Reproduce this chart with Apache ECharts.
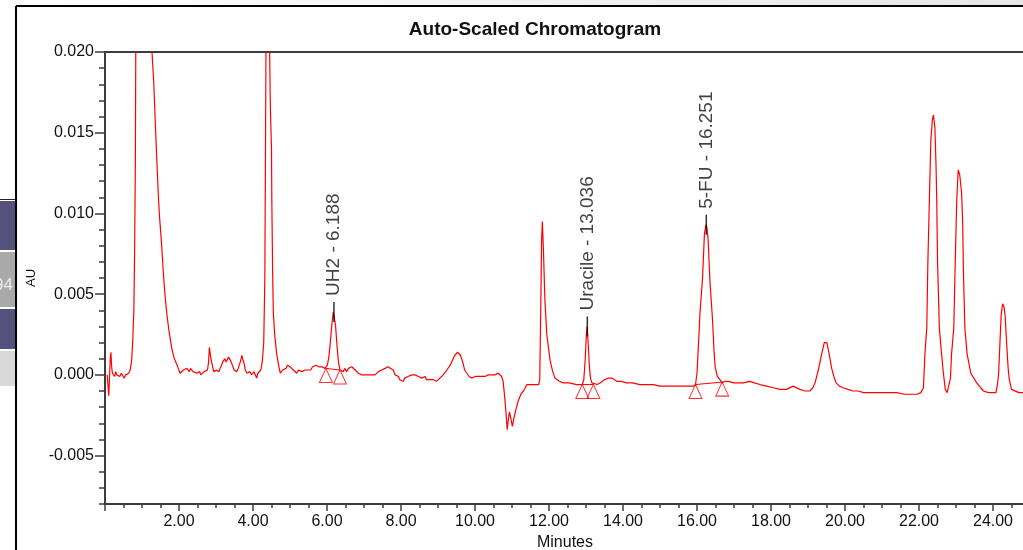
<!DOCTYPE html>
<html>
<head>
<meta charset="utf-8">
<title>Auto-Scaled Chromatogram</title>
<script src="https://cdn.jsdelivr.net/npm/echarts@6/dist/echarts.min.js"></script>
<style>
  html, body { margin: 0; padding: 0; background: #fff; }
  #chart { width: 1023px; height: 550px; }
</style>
</head>
<body>
<div id="chart"></div>
<script>
"use strict";

// detector trace, [minutes, AU]
var trace = [
  [0.06, 0.0000], [0.08, -0.0006], [0.10, -0.0013], [0.12, -0.0003], [0.14, 0.0009], [0.16, 0.0014],
  [0.18, 0.0005], [0.20, 0.0001], [0.23, 0.0002], [0.26, -0.0001], [0.29, 0.0002], [0.32, 0.0000],
  [0.36, 0.0001], [0.40, -0.0001], [0.44, 0.0001], [0.48, 0.0000], [0.52, -0.0002], [0.56, 0.0000],
  [0.60, -0.0001], [0.64, 0.0001], [0.68, 0.0003], [0.72, 0.0009], [0.75, 0.0021], [0.78, 0.0040],
  [0.80, 0.0075], [0.82, 0.0130], [0.84, 0.0250], [0.92, 0.0480], [1.05, 0.0560], [1.18, 0.0380],
  [1.27, 0.0200], [1.32, 0.0180], [1.37, 0.0150], [1.41, 0.0128], [1.44, 0.0112], [1.47, 0.0099],
  [1.51, 0.0087], [1.54, 0.0077], [1.58, 0.0062], [1.62, 0.0050], [1.67, 0.0038], [1.73, 0.0027],
  [1.80, 0.0017], [1.86, 0.0011], [1.93, 0.0007], [1.98, 0.0004], [2.03, 0.0001],
  [2.08, 0.0002], [2.12, 0.0003], [2.17, 0.0002], [2.21, 0.0004], [2.25, 0.0003], [2.28, 0.0002],
  [2.31, 0.0004], [2.34, 0.0004], [2.38, 0.0002], [2.43, 0.0003], [2.48, 0.0001], [2.52, 0.0001],
  [2.56, 0.0002], [2.59, 0.0000], [2.64, 0.0001], [2.68, 0.0002], [2.73, 0.0001], [2.77, 0.0003],
  [2.80, 0.0008], [2.82, 0.0017], [2.85, 0.0012], [2.88, 0.0008], [2.91, 0.0005], [2.94, 0.0002],
  [2.97, 0.0001], [3.01, 0.0003], [3.04, 0.0003], [3.08, 0.0002], [3.11, 0.0004], [3.15, 0.0006],
  [3.18, 0.0008], [3.21, 0.0009], [3.24, 0.0010], [3.27, 0.0008], [3.31, 0.0009], [3.34, 0.0011],
  [3.36, 0.0011], [3.39, 0.0009], [3.42, 0.0008], [3.46, 0.0005], [3.49, 0.0003], [3.53, 0.0002],
  [3.56, 0.0002], [3.60, 0.0004], [3.63, 0.0005], [3.67, 0.0009], [3.70, 0.0012], [3.72, 0.0010],
  [3.74, 0.0009], [3.77, 0.0006], [3.79, 0.0003], [3.84, 0.0001], [3.88, 0.0002], [3.92, 0.0002],
  [3.96, 0.0000], [3.99, 0.0001], [4.03, 0.0002], [4.06, 0.0000], [4.10, -0.0002], [4.13, 0.0001],
  [4.17, 0.0002], [4.21, 0.0003],
  [4.25, 0.0008], [4.29, 0.0020], [4.32, 0.0060], [4.35, 0.0200], [4.39, 0.0420], [4.43, 0.0350],
  [4.45, 0.0200], [4.47, 0.0165], [4.50, 0.0140], [4.51, 0.0105], [4.53, 0.0065], [4.55, 0.0038],
  [4.59, 0.0024], [4.64, 0.0013], [4.70, 0.0005], [4.74, 0.0001],
  [4.80, 0.0003], [4.85, 0.0004], [4.89, 0.0004], [4.93, 0.0006], [4.96, 0.0007], [5.00, 0.0005],
  [5.04, 0.0004], [5.09, 0.0003], [5.14, 0.0002], [5.18, 0.0001], [5.23, 0.0003], [5.27, 0.0003],
  [5.32, 0.0002], [5.36, 0.0002], [5.41, 0.0003], [5.45, 0.0004], [5.50, 0.0003], [5.56, 0.0003],
  [5.61, 0.0005], [5.65, 0.0005], [5.70, 0.0006], [5.74, 0.0006], [5.78, 0.0005], [5.81, 0.0004],
  [5.86, 0.0005], [5.90, 0.0006], [5.94, 0.0004], [5.97, 0.0004],
  [6.01, 0.0006], [6.05, 0.0011], [6.09, 0.0020], [6.13, 0.0031], [6.17, 0.0039], [6.20, 0.0038],
  [6.23, 0.0031], [6.27, 0.0018], [6.31, 0.0008], [6.35, 0.0003], [6.39, 0.0002],
  [6.44, 0.0002], [6.48, 0.0004], [6.53, 0.0002], [6.58, 0.0004], [6.63, 0.0003], [6.67, 0.0005],
  [6.71, 0.0005], [6.76, 0.0003], [6.80, 0.0002], [6.85, 0.0001], [6.90, 0.0002], [6.94, 0.0000],
  [6.98, 0.0001], [7.03, 0.0000], [7.07, -0.0001], [7.12, 0.0000], [7.16, -0.0001], [7.21, 0.0000],
  [7.25, 0.0001], [7.30, 0.0000], [7.34, 0.0001], [7.39, 0.0002], [7.43, 0.0001], [7.48, 0.0003],
  [7.52, 0.0003], [7.57, 0.0004], [7.61, 0.0003], [7.65, 0.0005], [7.68, 0.0005], [7.72, 0.0004],
  [7.76, 0.0003], [7.79, 0.0003], [7.84, 0.0000], [7.88, -0.0001], [7.93, -0.0001], [7.97, -0.0003],
  [8.02, -0.0002], [8.06, -0.0004], [8.10, -0.0002], [8.15, -0.0003], [8.19, -0.0001], [8.24, -0.0001],
  [8.29, 0.0000], [8.33, -0.0001], [8.38, 0.0000], [8.42, 0.0000], [8.47, -0.0001], [8.51, -0.0001],
  [8.56, -0.0002], [8.60, -0.0002], [8.65, -0.0001], [8.69, -0.0003], [8.74, -0.0002], [8.78, -0.0003],
  [8.83, -0.0002], [8.87, -0.0003], [8.92, -0.0004], [8.96, -0.0004], [9.01, -0.0003], [9.05, -0.0002],
  [9.10, -0.0001], [9.14, 0.0000], [9.19, 0.0001], [9.24, 0.0003], [9.28, 0.0004], [9.33, 0.0006],
  [9.37, 0.0008], [9.41, 0.0010], [9.45, 0.0012], [9.49, 0.0013], [9.53, 0.0014], [9.57, 0.0014],
  [9.61, 0.0012], [9.65, 0.0009], [9.68, 0.0007], [9.72, 0.0003], [9.78, 0.0001], [9.84, -0.0001],
  [9.91, -0.0002], [9.96, -0.0002], [10.01, -0.0001], [10.05, -0.0002], [10.09, -0.0001], [10.14, -0.0002],
  [10.18, -0.0001], [10.23, -0.0002], [10.27, -0.0001], [10.32, -0.0001], [10.36, 0.0000], [10.41, -0.0001],
  [10.45, 0.0000], [10.50, -0.0001], [10.54, 0.0000], [10.59, -0.0001], [10.63, 0.0001], [10.68, 0.0000],
  [10.72, -0.0001],
  [10.76, -0.0004], [10.80, -0.0013], [10.84, -0.0024], [10.87, -0.0034], [10.90, -0.0028], [10.93, -0.0023],
  [10.97, -0.0027], [11.01, -0.0032], [11.05, -0.0027], [11.10, -0.0022], [11.17, -0.0016], [11.24, -0.0012],
  [11.31, -0.0010], [11.36, -0.0008], [11.40, -0.0006], [11.48, -0.0006], [11.56, -0.0006], [11.64, -0.0006],
  [11.72, -0.0006], [11.75, -0.0003],
  [11.78, 0.0046], [11.80, 0.0083], [11.82, 0.0095], [11.85, 0.0077], [11.89, 0.0046], [11.94, 0.0025],
  [12.03, 0.0009], [12.10, 0.0002], [12.16, -0.0002], [12.28, -0.0004], [12.39, -0.0005], [12.55, -0.0005],
  [12.75, -0.0006], [12.90, -0.0006],
  [12.94, -0.0003], [12.98, 0.0010], [13.01, 0.0025], [13.03, 0.0030], [13.06, 0.0019], [13.09, 0.0006],
  [13.12, -0.0002], [13.16, -0.0005], [13.20, -0.0006], [13.30, -0.0006], [13.38, -0.0005], [13.50, -0.0003],
  [13.60, -0.0002], [13.70, -0.0002], [13.83, -0.0004], [13.95, -0.0004], [14.10, -0.0005], [14.25, -0.0005],
  [14.46, -0.0006], [14.60, -0.0006], [14.82, -0.0006], [15.00, -0.0007], [15.27, -0.0007], [15.50, -0.0007],
  [15.72, -0.0007], [15.90, -0.0007], [15.96, -0.0006],
  [16.00, 0.0001], [16.04, 0.0019], [16.08, 0.0038], [16.15, 0.0060], [16.20, 0.0087], [16.24, 0.0093],
  [16.27, 0.0091], [16.30, 0.0084], [16.35, 0.0058], [16.42, 0.0034], [16.46, 0.0015], [16.49, 0.0005],
  [16.55, -0.0001], [16.62, -0.0003], [16.68, -0.0005], [16.75, -0.0004], [16.85, -0.0004], [17.00, -0.0005],
  [17.12, -0.0005], [17.25, -0.0005], [17.43, -0.0004], [17.55, -0.0005], [17.70, -0.0006], [17.88, -0.0007],
  [18.06, -0.0008], [18.24, -0.0009], [18.42, -0.0009], [18.60, -0.0007], [18.78, -0.0009], [18.92, -0.0010],
  [19.05, -0.0010], [19.13, -0.0008], [19.19, -0.0005], [19.28, 0.0003], [19.37, 0.0013], [19.44, 0.0020],
  [19.51, 0.0020], [19.57, 0.0013], [19.64, 0.0004], [19.70, -0.0001], [19.76, -0.0005], [19.85, -0.0007],
  [19.95, -0.0008], [20.08, -0.0009], [20.22, -0.0010], [20.36, -0.0010], [20.50, -0.0011], [20.70, -0.0011],
  [20.95, -0.0011], [21.20, -0.0011], [21.40, -0.0011], [21.60, -0.0012], [21.76, -0.0012], [21.95, -0.0012],
  [22.05, -0.0011], [22.12, -0.0008],
  [22.16, 0.0013], [22.21, 0.0029], [22.24, 0.0070], [22.28, 0.0108], [22.32, 0.0145], [22.36, 0.0158],
  [22.39, 0.0161], [22.43, 0.0153], [22.46, 0.0130], [22.48, 0.0108], [22.50, 0.0071], [22.55, 0.0029],
  [22.61, 0.0013], [22.66, 0.0001], [22.71, -0.0009], [22.76, -0.0011], [22.81, -0.0010], [22.85, -0.0002],
  [22.88, 0.0013], [22.94, 0.0029], [22.98, 0.0071], [23.02, 0.0108], [23.06, 0.0127], [23.10, 0.0124],
  [23.15, 0.0113], [23.18, 0.0095], [23.20, 0.0065], [23.24, 0.0029], [23.30, 0.0013], [23.40, 0.0001],
  [23.56, -0.0005], [23.74, -0.0010], [23.88, -0.0011], [24.08, -0.0011],
  [24.12, -0.0006], [24.15, 0.0000], [24.19, 0.0021], [24.22, 0.0037], [24.26, 0.0044], [24.30, 0.0042],
  [24.33, 0.0036], [24.37, 0.0019], [24.41, 0.0004], [24.44, -0.0003], [24.50, -0.0009], [24.55, -0.0010],
  [24.70, -0.0011], [25.00, -0.0011]
];

// named peaks
var peakNames = ["UH2", "Uracile", "5-FU"];
var peakTimes = [6.188, 13.036, 16.251];
var peakHeights = [0.0039, 0.0030, 0.0093];

// integration start / end marks
var baseStart = [[5.97, 0.0004], [12.90, -0.0006], [15.96, -0.0006]];
var baseEnd = [[6.35, 0.0003], [13.20, -0.0006], [16.68, -0.00045]];

// AU ticks, one every 0.001 from the bottom of the frame
var auTicks = ["-0.008", "-0.007", "-0.006", "-0.005", "-0.004", "-0.003", "-0.002", "-0.001",
  "0.000", "0.001", "0.002", "0.003", "0.004", "0.005", "0.006", "0.007", "0.008", "0.009",
  "0.010", "0.011", "0.012", "0.013", "0.014", "0.015", "0.016", "0.017", "0.018", "0.019", "0.020"];

var FONT = "Liberation Sans, Arial, sans-serif";
var AXIS = "#3c3c3c";
var RED = "#ff0000";

function isMajor(index, value) {
  return Math.round(parseFloat(value) * 1000) % 5 === 0;
}

var peakData = [];
for (var i = 0; i < peakNames.length; i++) {
  peakData.push([peakTimes[i], peakHeights[i], peakNames[i]]);
}

var series = [{
  name: "trace",
  type: "line",
  data: trace,
  showSymbol: false,
  lineStyle: { color: RED, width: 1.2 },
  z: 2
}];

// baseline drawn between each pair of marks
for (var j = 0; j < baseStart.length; j++) {
  series.push({
    type: "line",
    data: [baseStart[j], baseEnd[j]],
    showSymbol: false,
    lineStyle: { color: RED, width: 1 },
    z: 2
  });
}

series.push({
  name: "marks",
  type: "scatter",
  data: baseStart.concat(baseEnd),
  symbol: "triangle",
  symbolSize: [13, 14],
  symbolOffset: [0, 7],
  itemStyle: { color: "rgba(255,255,255,0)", borderColor: RED, borderWidth: 1 },
  z: 3
});

series.push({
  name: "peaks",
  type: "scatter",
  data: peakData,
  symbol: "rect",
  symbolSize: [1.5, 20],
  itemStyle: { color: "#000" },
  label: {
    show: true,
    position: "top",
    distance: 6,
    rotate: 90,
    align: "left",
    verticalAlign: "middle",
    fontFamily: FONT,
    fontSize: 19,
    color: "#111",
    formatter: function (p) {
      return p.data[2] + " - " + p.data[0].toFixed(3);
    }
  },
  z: 4
});

var chart = echarts.init(document.getElementById("chart"));

chart.setOption({
  animation: false,
  backgroundColor: "#fff",
  grid: {
    left: 105, top: 52, width: 962, height: 452,
    outerBoundsMode: "none",
    show: true, borderColor: AXIS, borderWidth: 2
  },
  xAxis: {
    type: "value",
    min: 0,
    max: 26,
    interval: 2,
    name: "Minutes",
    nameLocation: "middle",
    nameGap: 26,
    nameTextStyle: { fontFamily: FONT, fontSize: 16, color: "#111", padding: [0, 42, 0, 0] },
    axisLine: { onZero: false, lineStyle: { color: AXIS, width: 2 } },
    axisTick: { length: 7, lineStyle: { color: AXIS, width: 1.5 } },
    minorTick: { show: true, splitNumber: 4, length: 4, lineStyle: { color: AXIS, width: 1.5 } },
    axisLabel: {
      showMinLabel: false,
      fontFamily: FONT, fontSize: 16, color: "#111", margin: 10,
      formatter: function (v) { return v.toFixed(2); }
    },
    splitLine: { show: false }
  },
  yAxis: [{
    type: "value",
    min: -0.008,
    max: 0.020,
    interval: 0.001,
    axisLine: { show: true, onZero: false, lineStyle: { color: AXIS, width: 2 } },
    axisTick: { show: true, length: 6, lineStyle: { color: AXIS, width: 1.5 } },
    axisLabel: { show: false },
    splitLine: { show: false }
  }, {
    // major ticks + labels every 0.005
    type: "category",
    data: auTicks,
    boundaryGap: false,
    position: "left",
    name: "AU",
    nameLocation: "middle",
    nameGap: 63,
    nameTextStyle: { fontFamily: FONT, fontSize: 13, color: "#111" },
    axisLine: { show: false, onZero: false },
    axisTick: { show: true, interval: isMajor, length: 10, lineStyle: { color: AXIS, width: 1.5 } },
    axisLabel: { interval: isMajor, fontFamily: FONT, fontSize: 16, color: "#111", margin: 11 },
    splitLine: { show: false }
  }],
  graphic: [
    // window chrome around the plot
    { type: "rect", shape: { x: 16, y: 0, width: 1007, height: 5 }, z: -1,
      style: { fill: new echarts.graphic.LinearGradient(0, 0, 1, 0, [
        { offset: 0, color: "#ffffff" }, { offset: 1, color: "#e6e6e6" }]) } },
    { type: "line", shape: { x1: 16, y1: 6, x2: 1023, y2: 6 }, style: { stroke: "#000", lineWidth: 2 } },
    { type: "line", shape: { x1: 16, y1: 6, x2: 16, y2: 550 }, style: { stroke: "#000", lineWidth: 2 } },
    { type: "line", shape: { x1: 0, y1: 199.5, x2: 15, y2: 199.5 }, style: { stroke: "#222", lineWidth: 1 } },
    { type: "rect", shape: { x: 0, y: 201, width: 15, height: 49 }, style: { fill: "#55517d" } },
    { type: "rect", shape: { x: 0, y: 252, width: 15, height: 55 }, style: { fill: "#a9a9a9" } },
    { type: "text", x: 13, y: 285, style: { text: "94", fill: "#ececec", font: "17px " + FONT,
      textAlign: "right", textVerticalAlign: "middle" } },
    { type: "rect", shape: { x: 0, y: 309, width: 15, height: 40 }, style: { fill: "#55517d" } },
    { type: "rect", shape: { x: 0, y: 351, width: 15, height: 35 }, style: { fill: "#d9d9d9" } },
    { type: "text", x: 535, y: 30, style: { text: "Auto-Scaled Chromatogram", fill: "#111",
      font: "bold 19px " + FONT, textAlign: "center", textVerticalAlign: "middle" } }
  ],
  series: series
});
</script>
</body>
</html>
